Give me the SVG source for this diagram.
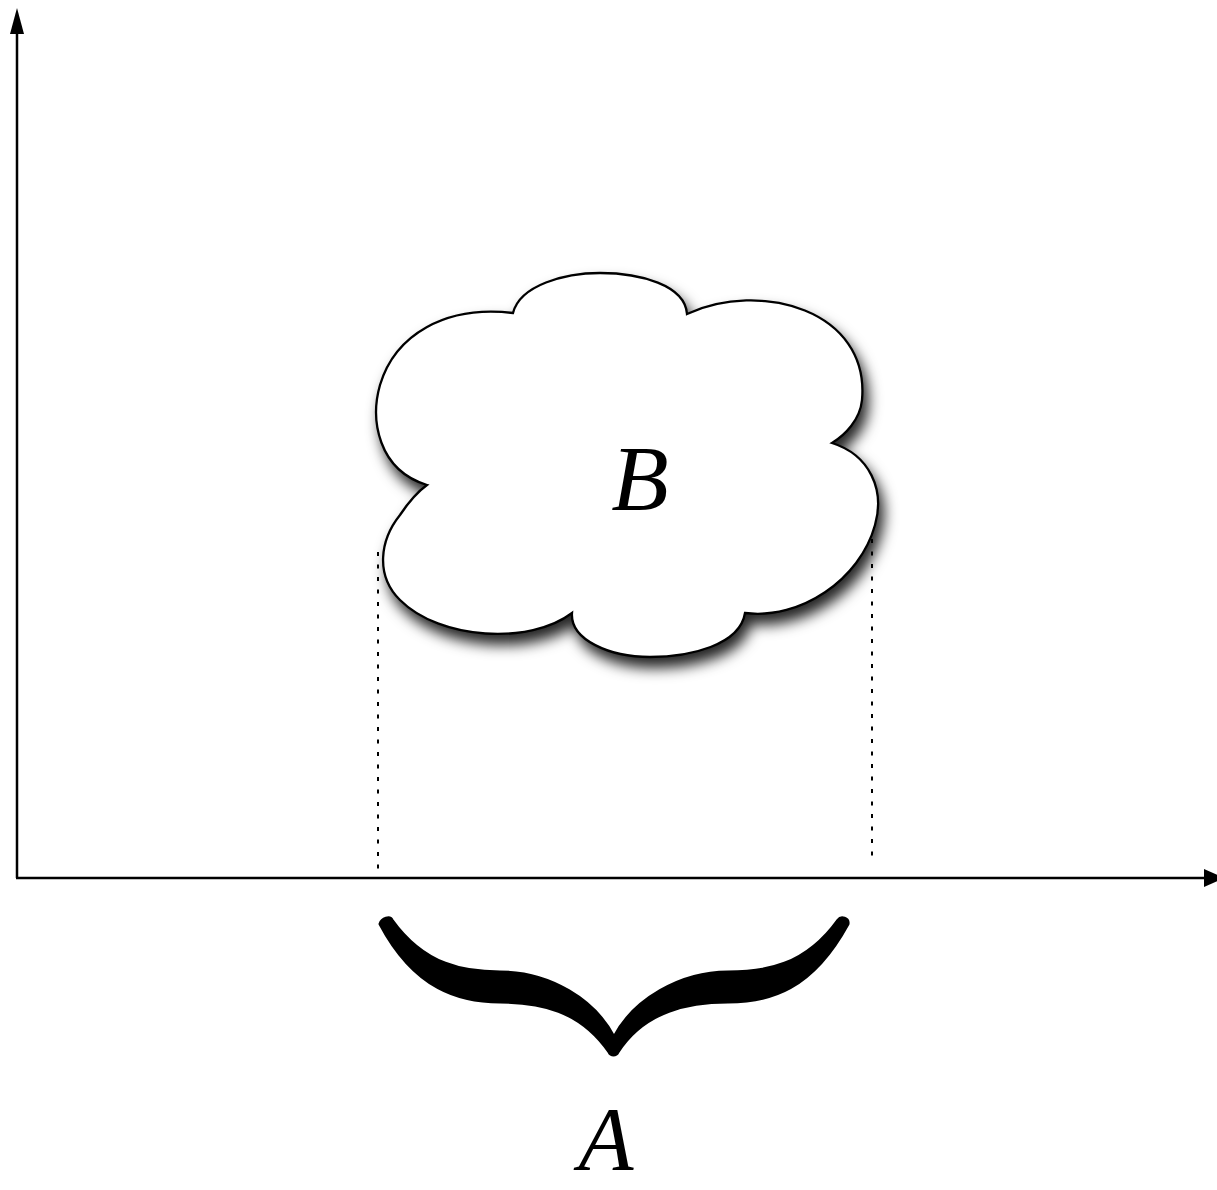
<svg xmlns="http://www.w3.org/2000/svg" width="1217" height="1190" viewBox="0 0 1217 1190">
<defs>
<style>
.axis{stroke:#000;stroke-width:2.5;fill:none}
.dot{stroke:#000;stroke-width:2;fill:none;stroke-dasharray:4 8.5}
.lbl{font-family:"Liberation Serif","Times New Roman",serif;font-style:italic;font-size:94px;fill:#000;text-anchor:middle}
</style>
<filter id="sh" x="-20%" y="-20%" width="150%" height="160%">
<feDropShadow dx="5" dy="10" stdDeviation="7" flood-color="#000" flood-opacity="0.85"/>
</filter>
</defs>
<rect width="1217" height="1190" fill="#fff"/>
<g id="connectors">
<line class="axis" x1="17" y1="878" x2="17" y2="30"/>
<polygon points="17,8 10,34 24,34" fill="#000"/>
<line class="axis" x1="16" y1="878" x2="1206" y2="878"/>
<polygon points="1224,878 1204,869 1204,887" fill="#000"/>
<line class="dot" x1="378" y1="552" x2="378" y2="878"/>
<line class="dot" x1="872" y1="539" x2="872" y2="864"/>
</g>
<g id="cloud">
<path filter="url(#sh)" fill="#fff" stroke="#000" stroke-width="2.3" d="M513,313 C520,285 565,273 600,273 C640,273 685,285 687,314 C760,280 870,310 862,400 C860,420 845,435 832,443 C870,455 885,490 875,525 C860,580 800,620 745,613 C740,645 690,657 650,657 C610,657 570,640 572,613 C530,645 440,640 400,600 C375,575 380,540 400,515 C410,500 420,490 427,485 C378,470 370,420 380,385 C395,335 445,305 513,313 Z"/>
<text class="lbl" x="640" y="510">B</text>
</g>
<g id="brace">
<path fill="#000" stroke="#000" stroke-width="3" stroke-linejoin="round" d="M380,924 C382,918 390,916 392,920 C425,966 465,972 500,972 C550,972 595,1000 614,1037 C633,1000 680,972 728,972 C765,972 805,966 838,920 C841,916 849,918 848,924 C812,990 770,1002 728,1002 C690,1002 645,1010 618,1052 C616,1056 611,1056 609,1052 C580,1010 540,1002 500,1002 C460,1002 415,990 380,924 Z"/>
</g>
<g id="labelA">
<text class="lbl" x="606" y="1170" style="font-size:90px">A</text>
</g>
</svg>
